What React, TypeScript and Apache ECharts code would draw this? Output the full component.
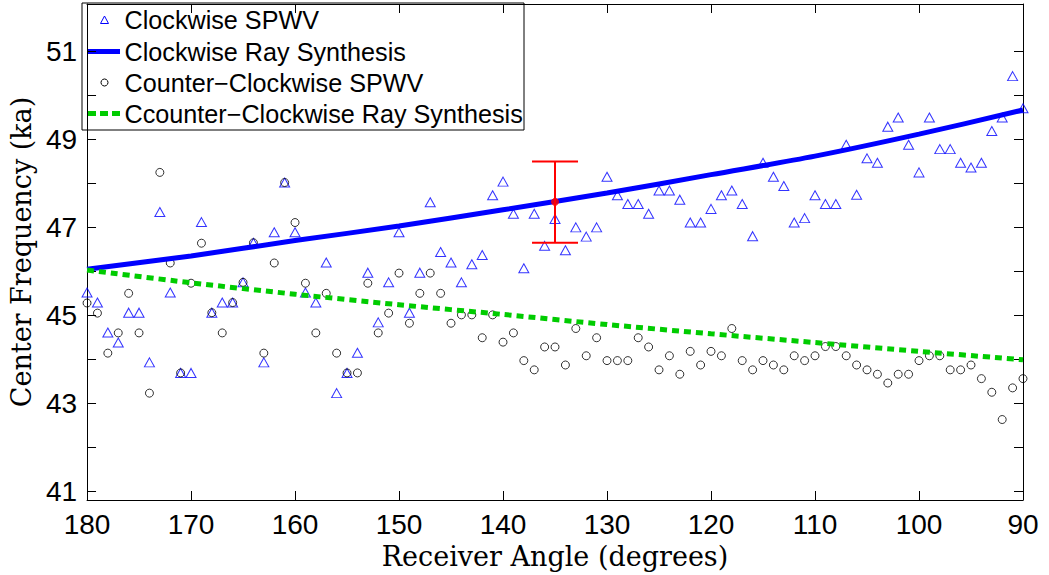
import React, { useEffect, useRef } from "react";
import * as echarts from "echarts";

const angles = [
  180, 179, 178, 177, 176, 175, 174, 173, 172, 171, 170, 169, 168, 167, 166, 165,
  164, 163, 162, 161, 160, 159, 158, 157, 156, 155, 154, 153, 152, 151, 150, 149,
  148, 147, 146, 145, 144, 143, 142, 141, 140, 139, 138, 137, 136, 135, 134, 133,
  132, 131, 130, 129, 128, 127, 126, 125, 124, 123, 122, 121, 120, 119, 118, 117,
  116, 115, 114, 113, 112, 111, 110, 109, 108, 107, 106, 105, 104, 103, 102, 101,
  100, 99, 98, 97, 96, 95, 94, 93, 92, 91, 90,
];

const cwSpwv = [
  45.52, 45.29, 44.61, 44.38, 45.06, 45.06, 43.93, 47.35, 45.52, 43.69, 43.69, 47.12,
  45.06, 45.29, 45.29, 45.75, 46.65, 43.93, 46.89, 48.02, 46.89, 45.52, 45.29, 46.2,
  43.23, 43.69, 44.15, 45.97, 44.84, 45.75, 46.89, 45.06, 45.97, 47.57, 46.44, 46.2,
  45.75, 46.16, 46.37, 47.73, 48.04, 47.31, 46.07, 47.31, 46.58, 47.19, 46.48, 47.0,
  46.79, 47.0, 48.15, 47.73, 47.53, 47.53, 47.31, 47.84, 47.84, 47.63, 47.11, 47.11,
  47.42, 47.73, 47.84, 47.53, 46.8, 48.47, 48.15, 47.94, 47.11, 47.21, 47.73, 47.53,
  47.53, 48.88, 47.74, 48.57, 48.47, 49.29, 49.5, 48.88, 48.25, 49.5, 48.78, 48.78,
  48.47, 48.36, 48.47, 49.19, 49.5, 50.44, 49.71,
];

const ccwSpwv = [
  45.28, 45.05, 44.14, 44.6, 45.5, 44.6, 43.23, 48.25, 46.19, 43.69, 45.73, 46.64,
  45.06, 44.6, 45.29, 45.75, 46.65, 44.14, 46.19, 48.02, 47.11, 45.73, 44.6, 45.5,
  44.14, 43.69, 43.69, 45.73, 44.6, 45.05, 45.96, 44.82, 45.5, 45.96, 45.5, 44.82,
  45.01, 45.01, 44.49, 45.01, 44.39, 44.6, 43.97, 43.76, 44.28, 44.28, 43.87, 44.7,
  44.08, 44.49, 43.97, 43.97, 43.97, 44.49, 44.28, 43.76, 44.08, 43.66, 44.18, 43.87,
  44.18, 44.08, 44.7, 43.97, 43.76, 43.97, 43.87, 43.76, 44.08, 43.97, 44.08, 44.29,
  44.29, 44.08, 43.87, 43.76, 43.66, 43.46, 43.66, 43.66, 43.97, 44.08, 44.08, 43.76,
  43.76, 43.87, 43.56, 43.25, 42.63, 43.35, 43.56,
];

const rayAngles = [180, 170, 160, 150, 140, 130, 120, 110, 100, 90];
const cwRay = [46.05, 46.35, 46.7, 47.03, 47.4, 47.78, 48.2, 48.62, 49.12, 49.67];
const ccwRay = [46.03, 45.74, 45.48, 45.24, 45.02, 44.79, 44.58, 44.38, 44.18, 43.99];

const errAngle = 135;
const errMean = 47.58;
const errLow = 46.65;
const errHigh = 48.5;

const yTicks = [41, 42, 43, 44, 45, 46, 47, 48, 49, 50, 51];
const yLabels = [41, 43, 45, 47, 49, 51];

const names = [
  "Clockwise SPWV",
  "Clockwise Ray Synthesis",
  "Counter\u2212Clockwise SPWV",
  "Ccounter\u2212Clockwise Ray Synthesis",
];

const pairs = (xs: number[], ys: number[]) => xs.map((x, i) => [x, ys[i]]);

export default function App() {
  const ref = useRef<HTMLDivElement>(null);
  useEffect(() => {
    if (!ref.current) return;
    const chart = echarts.init(ref.current, undefined, { renderer: "svg" });
    const sans = "Liberation Sans, Arial, sans-serif";
    const serif = "DejaVu Serif, serif";
    const BLUE = "#0000ff";
    const GREEN = "#00cc00";
    const xBase = {
      type: "value",
      min: 90,
      max: 180,
      interval: 10,
      inverse: true,
      splitLine: { show: false },
      axisLine: { show: true, onZero: false, lineStyle: { color: "#000", width: 1 } },
      axisTick: { show: true, inside: true, length: 9, lineStyle: { color: "#000" } },
    };
    const yBase = {
      type: "value",
      min: 40.8,
      max: 52.08,
      splitLine: { show: false },
      axisLine: { show: true, onZero: false, lineStyle: { color: "#000", width: 1 } },
      axisTick: {
        show: true,
        inside: true,
        length: 9,
        customValues: yTicks,
        lineStyle: { color: "#000" },
      },
    };

    // legend layout
    const lgX = 82;
    const lgY = 3;
    const rows = [20, 51.5, 82.5, 113.5];
    const iconL = 88;
    const iconR = 120;
    const iconC = 104.5;
    const textX = 124.5;
    const textStyle = { fill: "#000", fontSize: 25.2, fontFamily: sans, verticalAlign: "middle", align: "left" };

    chart.setOption({
      animation: false,
      backgroundColor: "#fff",
      grid: { left: 86, right: 26, top: 4, bottom: 75, containLabel: false },
      xAxis: [
        {
          ...xBase,
          position: "bottom",
          axisLabel: { fontSize: 28, color: "#000", fontFamily: sans, margin: 10 },
          name: "Receiver Angle (degrees)",
          nameLocation: "middle",
          nameGap: 36,
          nameTextStyle: { fontSize: 27, color: "#000", fontFamily: serif },
        },
        { ...xBase, position: "top", axisLabel: { show: false } },
      ],
      yAxis: [
        {
          ...yBase,
          position: "left",
          axisLabel: {
            customValues: yLabels,
            fontSize: 28,
            color: "#000",
            fontFamily: sans,
            margin: 10,
          },
          name: "Center Frequency (ka)",
          nameLocation: "middle",
          nameGap: 38,
          nameTextStyle: { fontSize: 27, color: "#000", fontFamily: serif },
        },
        { ...yBase, position: "right", axisLabel: { show: false } },
      ],
      graphic: [
        {
          type: "group",
          z: 100,
          children: [
            {
              type: "rect",
              shape: { x: lgX, y: lgY, width: 442, height: 127 },
              style: { fill: "#fff", stroke: "#000", lineWidth: 1 },
            },
            {
              type: "polygon",
              shape: { points: [[iconC - 4, rows[0] + 3.5], [iconC, rows[0] - 4], [iconC + 4, rows[0] + 3.5]] },
              style: { fill: "none", stroke: BLUE, lineWidth: 1 },
            },
            { type: "text", style: { ...textStyle, x: textX, y: rows[0], text: names[0] } },
            {
              type: "line",
              shape: { x1: iconL, y1: rows[1], x2: iconR, y2: rows[1] },
              style: { stroke: BLUE, lineWidth: 5 },
            },
            { type: "text", style: { ...textStyle, x: textX, y: rows[1], text: names[1] } },
            {
              type: "circle",
              shape: { cx: iconC, cy: rows[2], r: 3.5 },
              style: { fill: "none", stroke: "#000", lineWidth: 1 },
            },
            { type: "text", style: { ...textStyle, x: textX, y: rows[2], text: names[2] } },
            {
              type: "line",
              shape: { x1: iconL, y1: rows[3], x2: iconR, y2: rows[3] },
              style: { stroke: GREEN, lineWidth: 5, lineDash: [8, 4] },
            },
            { type: "text", style: { ...textStyle, x: textX, y: rows[3], text: names[3] } },
          ],
        },
      ],
      series: [
        {
          name: names[0],
          type: "scatter",
          data: pairs(angles, cwSpwv),
          symbol: "triangle",
          symbolSize: [10, 9],
          clip: false,
          itemStyle: { color: "rgba(0,0,0,0)", borderColor: BLUE, borderWidth: 1 },
        },
        {
          name: names[1],
          type: "line",
          data: pairs(rayAngles, cwRay),
          smooth: 0.3,
          symbol: "none",
          clip: false,
          itemStyle: { color: BLUE },
          lineStyle: { color: BLUE, width: 5 },
        },
        {
          name: names[2],
          type: "scatter",
          data: pairs(angles, ccwSpwv),
          symbol: "circle",
          symbolSize: 8,
          clip: false,
          itemStyle: { color: "rgba(0,0,0,0)", borderColor: "#000", borderWidth: 1 },
        },
        {
          name: names[3],
          type: "line",
          data: pairs(rayAngles, ccwRay),
          smooth: 0.3,
          symbol: "none",
          clip: false,
          itemStyle: { color: GREEN },
          lineStyle: { color: GREEN, width: 5, type: [7, 5] },
        },
        {
          name: "Error",
          type: "custom",
          data: [[errAngle, errLow, errHigh]],
          encode: { x: 0, y: [1, 2] },
          clip: false,
          z: 5,
          renderItem: (_params: any, api: any) => {
            const x = api.value(0);
            const lo = api.coord([x, api.value(1)]);
            const hi = api.coord([x, api.value(2)]);
            const w = 23;
            const st = { stroke: "#ff0000", lineWidth: 2 };
            return {
              type: "group",
              children: [
                { type: "line", shape: { x1: lo[0], y1: lo[1], x2: hi[0], y2: hi[1] }, style: st },
                { type: "line", shape: { x1: lo[0] - w, y1: lo[1], x2: lo[0] + w, y2: lo[1] }, style: st },
                { type: "line", shape: { x1: hi[0] - w, y1: hi[1], x2: hi[0] + w, y2: hi[1] }, style: st },
              ],
            };
          },
        },
        {
          name: "Mean",
          type: "scatter",
          data: [[errAngle, errMean]],
          symbol: "circle",
          symbolSize: 7,
          z: 6,
          itemStyle: { color: "#ff0000", borderColor: "#ff0000", borderWidth: 1 },
        },
      ],
    });
    return () => chart.dispose();
  }, []);
  return (
    <div
      ref={ref}
      style={{ position: "fixed", left: 0, top: 0, width: 1049, height: 575 }}
    />
  );
}
